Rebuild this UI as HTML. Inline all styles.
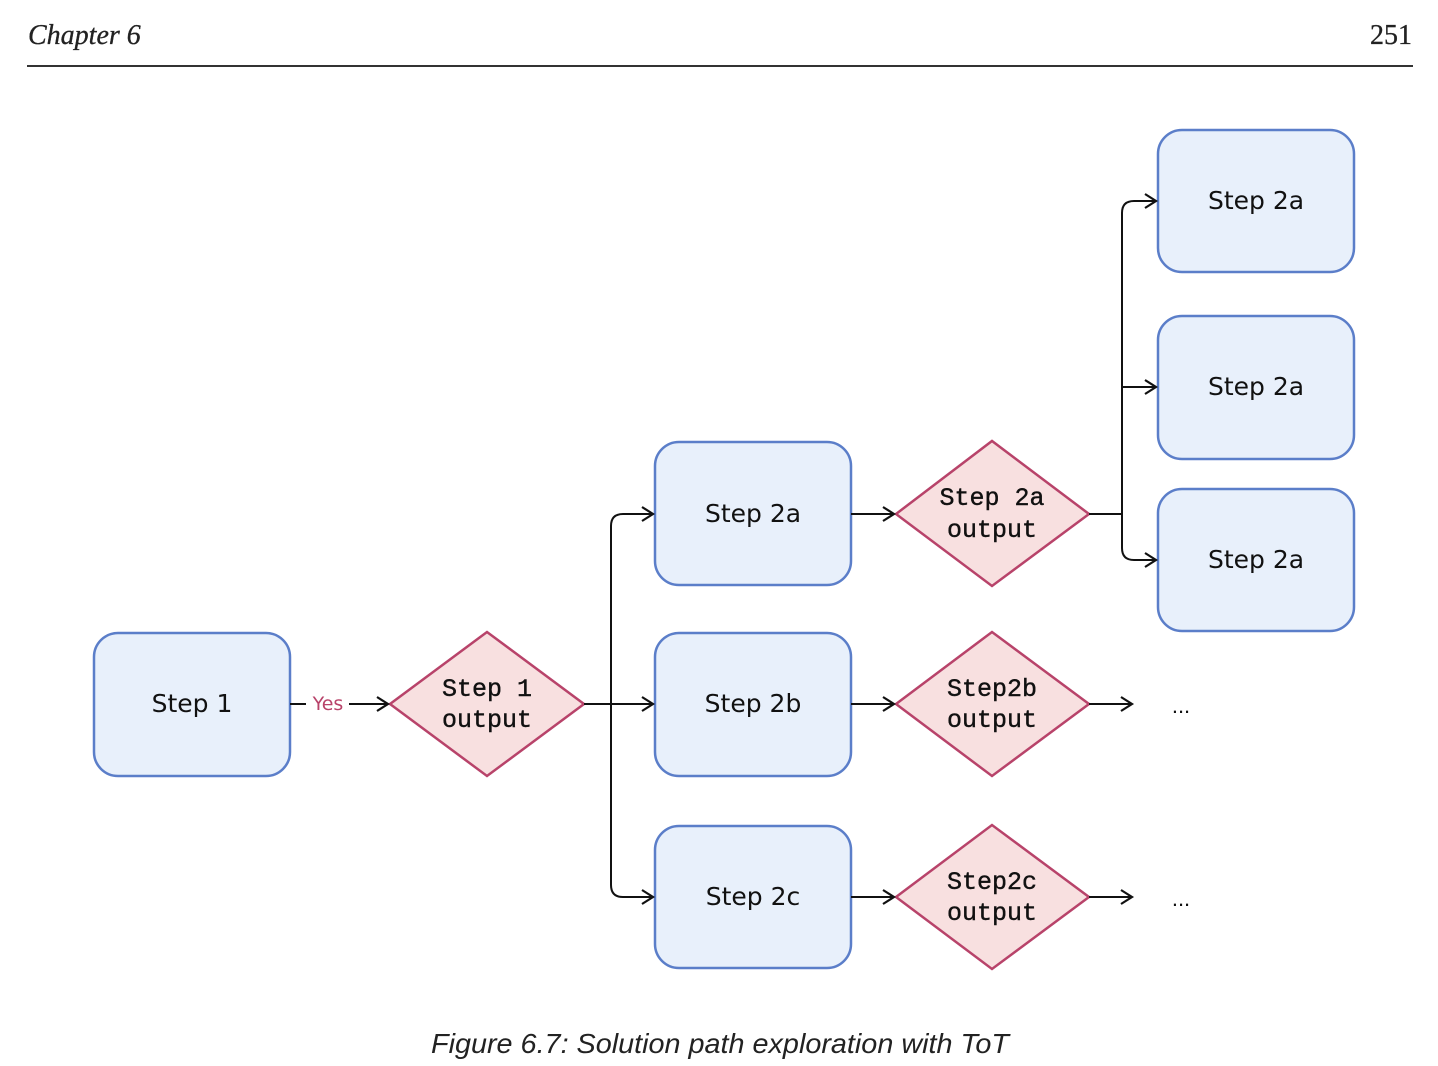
<!DOCTYPE html>
<html><head><meta charset="utf-8"><style>
html,body{margin:0;padding:0;background:#fff;}
svg{display:block}
</style></head><body>
<svg width="1438" height="1066" viewBox="0 0 1438 1066" xmlns="http://www.w3.org/2000/svg">
<defs>
<marker id="a" markerWidth="16" markerHeight="16" refX="13" refY="8" orient="auto" markerUnits="userSpaceOnUse">
<path d="M2,1 L13,8 L2,15" fill="none" stroke="#111" stroke-width="2.2"/>
</marker>
</defs>
<text x="28" y="44" font-family="Liberation Serif, serif" font-style="italic" font-size="28" fill="#222" stroke="#222" stroke-width="0.3">Chapter 6</text>
<text x="1412" y="44" text-anchor="end" font-family="Liberation Serif, serif" font-size="28" fill="#222" stroke="#222" stroke-width="0.3">251</text>
<line x1="27" y1="66" x2="1413" y2="66" stroke="#333" stroke-width="2"/>

<g fill="#e8f0fb" stroke="#5b7ec9" stroke-width="2.5">
<rect x="94" y="633" width="196" height="143" rx="24"/>
<rect x="655" y="442" width="196" height="143" rx="24"/>
<rect x="655" y="633" width="196" height="143" rx="24"/>
<rect x="655" y="826" width="196" height="142" rx="24"/>
<rect x="1158" y="130" width="196" height="142" rx="24"/>
<rect x="1158" y="316" width="196" height="143" rx="24"/>
<rect x="1158" y="489" width="196" height="142" rx="24"/>
</g>
<g fill="#f8e0e0" stroke="#b8436a" stroke-width="2.5">
<polygon points="390,704 487,632 584,704 487,776"/>
<polygon points="896,514 992,441 1089,514 992,586"/>
<polygon points="896,704 992,632 1089,704 992,776"/>
<polygon points="896,897 992,825 1089,897 992,969"/>
</g>
<g fill="none" stroke="#111" stroke-width="2">
<line x1="290" y1="704" x2="306" y2="704"/>
<line x1="349" y1="704" x2="388" y2="704" marker-end="url(#a)"/>
<line x1="584" y1="704" x2="653" y2="704" marker-end="url(#a)"/>
<path d="M653,514 L623,514 Q611,514 611,526 L611,885 Q611,897 623,897 L653,897" />
<line x1="640" y1="514" x2="653" y2="514" marker-end="url(#a)"/>
<line x1="640" y1="897" x2="653" y2="897" marker-end="url(#a)"/>
<line x1="851" y1="514" x2="894" y2="514" marker-end="url(#a)"/>
<line x1="851" y1="704" x2="894" y2="704" marker-end="url(#a)"/>
<line x1="851" y1="897" x2="894" y2="897" marker-end="url(#a)"/>
<line x1="1089" y1="514" x2="1122" y2="514"/>
<path d="M1156,201 L1134,201 Q1122,201 1122,213 L1122,548 Q1122,560 1134,560 L1156,560"/>
<line x1="1140" y1="201" x2="1156" y2="201" marker-end="url(#a)"/>
<line x1="1122" y1="387" x2="1156" y2="387" marker-end="url(#a)"/>
<line x1="1140" y1="560" x2="1156" y2="560" marker-end="url(#a)"/>
<line x1="1089" y1="704" x2="1132" y2="704" marker-end="url(#a)"/>
<line x1="1089" y1="897" x2="1132" y2="897" marker-end="url(#a)"/>
</g>
<text x="328" y="710" text-anchor="middle" font-family="DejaVu Sans, sans-serif" font-size="19" fill="#b8436a">Yes</text>
<g font-family="DejaVu Sans, sans-serif" font-size="25" fill="#111" text-anchor="middle">
<text x="192" y="712">Step 1</text>
<text x="753" y="522">Step 2a</text>
<text x="753" y="712">Step 2b</text>
<text x="753" y="905">Step 2c</text>
<text x="1256" y="209">Step 2a</text>
<text x="1256" y="395">Step 2a</text>
<text x="1256" y="568">Step 2a</text>
</g>
<g font-family="Liberation Mono, monospace" font-size="25" fill="#111" stroke="#111" stroke-width="0.4" text-anchor="middle">
<text x="487" y="696">Step 1</text><text x="487" y="727">output</text>
<text x="992" y="505">Step 2a</text><text x="992" y="537">output</text>
<text x="992" y="696">Step2b</text><text x="992" y="727">output</text>
<text x="992" y="889">Step2c</text><text x="992" y="920">output</text>
</g>
<text x="1181" y="713" text-anchor="middle" font-family="Liberation Sans, sans-serif" font-size="22" fill="#111">...</text>
<text x="1181" y="906" text-anchor="middle" font-family="Liberation Sans, sans-serif" font-size="22" fill="#111">...</text>
<text x="720" y="1053" text-anchor="middle" font-family="Liberation Sans, sans-serif" font-style="italic" font-size="28" fill="#222" textLength="578" lengthAdjust="spacingAndGlyphs">Figure 6.7: Solution path exploration with ToT</text>
</svg>
</body></html>
